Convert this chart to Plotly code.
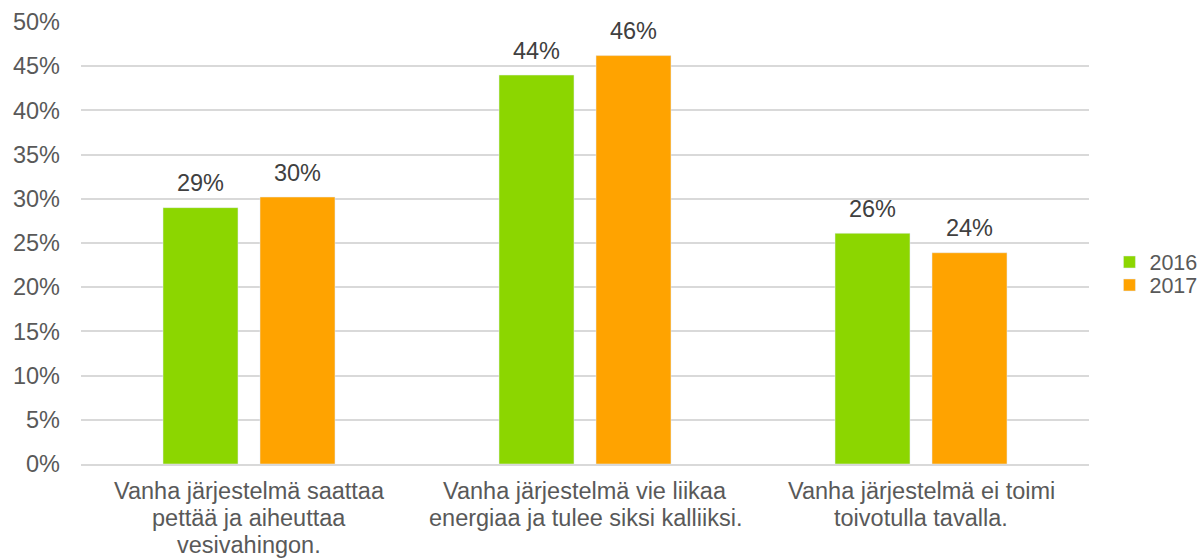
import plotly.graph_objects as go

category_lines = [
    ["Vanha järjestelmä saattaa", "pettää ja aiheuttaa", "vesivahingon."],
    ["Vanha järjestelmä vie liikaa", "energiaa ja tulee siksi kalliiksi."],
    ["Vanha järjestelmä ei toimi", "toivotulla tavalla."],
]
categories = [" ".join(lines) for lines in category_lines]
values_2016 = [0.29, 0.44, 0.261]
values_2017 = [0.302, 0.462, 0.239]
series_names = ["2016", "2017"]
series_colors = ["#8CD600", "#FFA300"]
tick_vals = [i * 0.05 for i in range(11)]
tick_text = [f"{i*5}%" for i in range(11)]

FONT = "Liberation Sans, Arial, sans-serif"
TXT = "#595959"
FS = 23.5

fig = go.Figure()
legend_ids = ["legend", "legend2"]
for name, vals, col, lg in zip(series_names, [values_2016, values_2017], series_colors, legend_ids):
    fig.add_trace(go.Bar(
        x=categories, y=vals, name=name, offsetgroup=name, legend=lg,
        marker=dict(color=col), hoverinfo="skip",
    ))
for name, vals in zip(series_names, [values_2016, values_2017]):
    fig.add_trace(go.Scatter(
        x=categories, y=vals, offsetgroup=name, mode="markers+text",
        marker=dict(size=15, opacity=0), showlegend=False,
        texttemplate="%{y:.0%}", textposition="top center",
        textfont=dict(size=FS, color="#404040", family=FONT),
        cliponaxis=False, hoverinfo="skip",
    ))

# category labels, one annotation per line
line_shifts = [-27, -54, -81]
for cat, lines in zip(categories, category_lines):
    for i, line in enumerate(lines):
        fig.add_annotation(
            x=cat, xref="x", y=0, yref="paper", yanchor="middle",
            yshift=line_shifts[i], text=line, showarrow=False,
            font=dict(size=FS, color=TXT, family=FONT),
        )

leg_common = dict(xref="container", yref="container", x=0.923,
                  xanchor="left", yanchor="middle",
                  font=dict(size=21.5, color=TXT), itemwidth=30,
                  bgcolor="rgba(0,0,0,0)")
fig.update_layout(
    width=1202, height=559,
    margin=dict(l=81, r=113, t=22, b=95),
    plot_bgcolor="white", paper_bgcolor="white",
    barmode="group", bargap=0.4226, bargroupgap=0.227,
    scattermode="group", scattergap=0.4226,
    font=dict(family=FONT, size=FS, color=TXT),
    legend=dict(y=(559 - 262) / 559, **leg_common),
    legend2=dict(y=(559 - 285) / 559, **leg_common),
    yaxis=dict(range=[0, 0.5], tickvals=tick_vals, ticktext=tick_text,
               showgrid=True, gridcolor="#D9D9D9", gridwidth=2,
               zeroline=False, showline=False, ticks="", ticklabelstandoff=20,
               automargin=False, tickfont=dict(size=FS, color=TXT)),
    xaxis=dict(showline=True, linecolor="#D9D9D9", linewidth=2,
               ticks="", showticklabels=False, automargin=False),
)

fig.write_html("out.html", config={"displayModeBar": False},
               post_script="document.body.style.margin='0';")
